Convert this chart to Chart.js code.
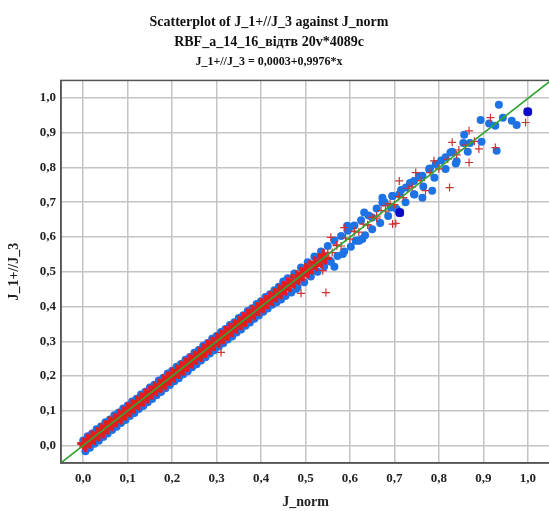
<!DOCTYPE html>
<html lang="uk">
<head>
    <meta charset="UTF-8">
    <title>Scatterplot of J_1+//J_3 against J_norm</title>
    <script src="https://cdn.jsdelivr.net/npm/chart.js"></script>
    <style>
        html, body { margin: 0; padding: 0; background: #fff; overflow: hidden; }
        .chart-box { width: 559px; height: 511px; position: relative; }
    </style>
</head>
<body>
<div class="chart-box">
    <canvas id="scatterChart"></canvas>
</div>

<script>
    // tick values on both axes
    const tickValues = [0, 0.1, 0.2, 0.3, 0.4, 0.5, 0.6, 0.7, 0.8, 0.9, 1.0];

    // regression line J_1+//J_3 = 0,0003 + 0,9976*x, between the axis limits
    const fitX = [-0.05, 1.05];
    const fitY = [-0.0496, 1.0478];

    // red "+" markers in the dense core of the band
    const redCore = [
        [0.000,0.006],[0.005,-0.001],[0.010,0.017],[0.015,0.009],[0.020,0.026],[0.025,0.019],[0.030,0.036],[0.035,0.029],[0.040,0.047],[0.045,0.038],
        [0.050,0.056],[0.055,0.049],[0.060,0.067],[0.065,0.058],[0.070,0.076],[0.075,0.069],[0.080,0.087],[0.085,0.078],[0.090,0.096],[0.095,0.089],
        [0.100,0.107],[0.105,0.098],[0.110,0.116],[0.115,0.109],[0.120,0.127],[0.125,0.118],[0.130,0.136],[0.135,0.129],[0.140,0.147],[0.145,0.138],
        [0.150,0.156],[0.155,0.149],[0.160,0.167],[0.165,0.158],[0.170,0.176],[0.175,0.169],[0.180,0.187],[0.185,0.178],[0.190,0.196],[0.195,0.189],
        [0.200,0.207],[0.205,0.198],[0.210,0.216],[0.215,0.209],[0.220,0.227],[0.225,0.218],[0.230,0.236],[0.235,0.229],[0.240,0.247],[0.245,0.238],
        [0.250,0.256],[0.255,0.249],[0.260,0.267],[0.265,0.258],[0.270,0.276],[0.275,0.269],[0.280,0.287],[0.285,0.278],[0.290,0.296],[0.295,0.289],
        [0.300,0.307],[0.305,0.298],[0.310,0.316],[0.315,0.309],[0.320,0.327],[0.325,0.318],[0.330,0.336],[0.335,0.329],[0.340,0.347],[0.345,0.338],
        [0.350,0.356],[0.355,0.349],[0.360,0.367],[0.365,0.358],[0.370,0.376],[0.375,0.369],[0.380,0.387],[0.385,0.378],[0.390,0.396],[0.395,0.389],
        [0.400,0.407],[0.405,0.398],[0.410,0.416],[0.415,0.409],[0.420,0.427],[0.425,0.418],[0.430,0.436],[0.435,0.429],[0.440,0.447],[0.445,0.438],
        [0.450,0.456],[0.455,0.449],[0.460,0.467],[0.465,0.458],[0.470,0.476],[0.475,0.469],[0.480,0.487],[0.485,0.478],[0.490,0.496],[0.495,0.489],
        [0.500,0.507],[0.505,0.498],[0.510,0.516],[0.515,0.509],[0.520,0.527],[0.525,0.518],[0.530,0.536],[0.535,0.529],[0.540,0.547],[0.545,0.538]
    ];

    // red "+" markers further out along the line
    const redScatter = [
        [0.310,0.268],[0.490,0.438],[0.546,0.440],[0.539,0.503],[0.557,0.599],[0.587,0.627],[0.696,0.637],[0.703,0.639],
        [0.550,0.556],[0.560,0.555],[0.570,0.577],[0.580,0.574],[0.590,0.597],[0.600,0.594],[0.610,0.617],[0.620,0.614],
        [0.630,0.637],[0.640,0.634],[0.650,0.656],[0.660,0.654],[0.670,0.676],[0.680,0.674],[0.690,0.696],[0.700,0.693],
        [0.710,0.716],[0.720,0.713],[0.740,0.744],[0.760,0.762],[0.780,0.785],[0.800,0.796],[0.820,0.824],[0.840,0.836],
        [0.860,0.864],[0.711,0.761],[0.730,0.740],[0.748,0.785],[0.770,0.733],[0.789,0.819],[0.824,0.742],[0.830,0.872],
        [0.845,0.850],[0.868,0.905],[0.868,0.814],[0.890,0.853],[0.916,0.943],[0.927,0.857],[0.995,0.929],[0.880,0.875],
        [0.475,0.480],[0.510,0.520],[0.530,0.535],[0.570,0.575],[0.610,0.615],[0.640,0.635],[0.660,0.660],[0.680,0.690]
    ];

    // blue markers: the two edges of the band, then the scattered ones
    const bluePoints = [
        [0.000,0.015],[0.005,-0.016],[0.010,0.027],[0.015,-0.006],[0.020,0.035],[0.025,0.005],[0.030,0.047],[0.035,0.014],
        [0.040,0.055],[0.045,0.025],[0.050,0.067],[0.055,0.035],[0.060,0.075],[0.065,0.045],[0.070,0.087],[0.075,0.054],
        [0.080,0.095],[0.085,0.065],[0.090,0.107],[0.095,0.074],[0.100,0.115],[0.105,0.085],[0.110,0.127],[0.115,0.094],
        [0.120,0.135],[0.125,0.105],[0.130,0.147],[0.135,0.114],[0.140,0.155],[0.145,0.125],[0.150,0.167],[0.155,0.134],
        [0.160,0.175],[0.165,0.145],[0.170,0.187],[0.175,0.154],[0.180,0.195],[0.185,0.165],[0.190,0.207],[0.195,0.174],
        [0.200,0.215],[0.205,0.185],[0.210,0.227],[0.215,0.194],[0.220,0.235],[0.225,0.205],[0.230,0.247],[0.235,0.214],
        [0.240,0.255],[0.245,0.225],[0.250,0.267],[0.255,0.234],[0.260,0.275],[0.265,0.245],[0.270,0.287],[0.275,0.254],
        [0.280,0.295],[0.285,0.265],[0.290,0.307],[0.295,0.274],[0.300,0.315],[0.305,0.285],[0.310,0.327],[0.315,0.294],
        [0.320,0.335],[0.325,0.305],[0.330,0.347],[0.335,0.314],[0.340,0.355],[0.345,0.325],[0.350,0.367],[0.355,0.334],
        [0.360,0.375],[0.365,0.345],[0.370,0.387],[0.375,0.354],[0.380,0.395],[0.385,0.365],[0.390,0.407],[0.395,0.374],
        [0.400,0.415],[0.405,0.385],[0.410,0.427],[0.415,0.394],[0.420,0.435],[0.425,0.405],[0.430,0.447],[0.435,0.412],
        [0.440,0.457],[0.445,0.420],
        [0.450,0.472],[0.455,0.430],[0.460,0.481],[0.468,0.440],[0.475,0.495],[0.482,0.455],[0.490,0.512],[0.497,0.470],
        [0.505,0.527],[0.512,0.486],[0.520,0.544],[0.527,0.500],[0.535,0.558],[0.542,0.515],[0.550,0.574],[0.557,0.529],
        [0.565,0.590],[0.572,0.545],[0.580,0.603],[0.587,0.558],[0.595,0.618],[0.602,0.572],[0.610,0.633],[0.618,0.590],
        [0.625,0.648],[0.634,0.605],[0.642,0.662],[0.650,0.622],[0.660,0.682],[0.668,0.640],[0.678,0.700],[0.686,0.660],
        [0.696,0.718],[0.705,0.680],[0.715,0.735],[0.725,0.700],[0.735,0.755],[0.745,0.722],[0.755,0.775],[0.765,0.745],
        [0.780,0.797],[0.790,0.770],[0.805,0.820],[0.815,0.795],[0.830,0.845],[0.840,0.818],[0.855,0.870],[0.865,0.845],
        [0.479,0.450],[0.554,0.532],[0.565,0.514],[0.584,0.551],[0.594,0.632],[0.599,0.627],[0.613,0.589],[0.621,0.589],
        [0.628,0.594],[0.632,0.670],[0.650,0.656],[0.673,0.713],[0.673,0.699],[0.692,0.685],[0.695,0.718],[0.711,0.723],
        [0.726,0.742],[0.744,0.761],[0.744,0.723],[0.763,0.776],[0.763,0.713],[0.778,0.795],[0.785,0.733],[0.793,0.810],
        [0.815,0.829],[0.826,0.843],[0.838,0.811],[0.857,0.894],[0.870,0.870],[0.896,0.874],[0.894,0.936],[0.913,0.926],
        [0.927,0.920],[0.930,0.848],[0.935,0.980],[0.944,0.943],[0.964,0.934],[0.975,0.922]
    ];

    // a few darker blue markers
    const darkPoints = [[0.712,0.670],[1.000,0.960]];

    const serif = "'Liberation Serif', 'Times New Roman', serif";
    const toXY = pts => pts.map(p => ({x: p[0], y: p[1]}));
    const commaLabel = v => v.toFixed(1).replace('.', ',');

    // plot frame drawn around the chart area
    const frame = {
        id: 'frame',
        afterDatasetsDraw(chart) {
            const a = chart.chartArea, c = chart.ctx;
            c.save();
            c.strokeStyle = '#555';
            c.lineWidth = 1.5;
            c.strokeRect(a.left, a.top, a.right - a.left, a.bottom - a.top);
            c.restore();
        }
    };

    new Chart(document.getElementById('scatterChart'), {
        type: 'scatter',
        data: {
            datasets: [
                {
                    type: 'line',
                    data: fitX.map((x, i) => ({x: x, y: fitY[i]})),
                    borderColor: 'rgb(50,165,50)',
                    borderWidth: 1.6,
                    pointRadius: 0,
                    fill: false
                },
                {
                    data: toXY(redScatter),
                    pointStyle: 'cross',
                    pointRadius: 4,
                    borderColor: 'rgb(205,50,50)',
                    borderWidth: 1.2
                },
                {
                    data: toXY(redCore),
                    pointStyle: 'cross',
                    pointRadius: 6,
                    borderColor: 'rgb(225,30,30)',
                    borderWidth: 3
                },
                {
                    data: toXY(darkPoints),
                    pointStyle: 'rectRounded',
                    pointRadius: 4.5,
                    backgroundColor: 'rgb(10,10,200)',
                    borderColor: 'rgb(10,10,200)'
                },
                {
                    data: toXY(bluePoints),
                    pointStyle: 'circle',
                    pointRadius: 4,
                    backgroundColor: 'rgb(30,115,228)',
                    borderColor: 'rgb(30,115,228)',
                    borderWidth: 0
                }
            ]
        },
        options: {
            responsive: true,
            maintainAspectRatio: false,
            animation: false,
            // negative left padding keeps the centred title a little left of the plot centre
            layout: { padding: { left: -20, right: 1, top: 0, bottom: 0 } },
            plugins: {
                legend: { display: false },
                tooltip: { enabled: false },
                title: {
                    display: true,
                    text: ['Scatterplot of J_1+//J_3 against J_norm', 'RBF_a_14_16_відтв 20v*4089c'],
                    color: '#111',
                    font: { family: serif, size: 14, weight: 'bold', lineHeight: 1.43 },
                    padding: { top: 12, bottom: 3 }
                },
                subtitle: {
                    display: true,
                    text: 'J_1+//J_3 = 0,0003+0,9976*x',
                    color: '#111',
                    font: { family: serif, size: 12, weight: 'bold' },
                    padding: { top: 0, bottom: 11 }
                }
            },
            scales: {
                x: {
                    type: 'linear',
                    min: -0.05,
                    max: 1.05,
                    afterBuildTicks: s => { s.ticks = tickValues.map(v => ({value: v})); },
                    afterFit: s => { s.height = 48; },
                    grid: { color: '#c4c4c4', lineWidth: 1.5, drawTicks: false },
                    border: { color: '#555', width: 1.5 },
                    ticks: {
                        callback: commaLabel,
                        color: '#222',
                        padding: 8,
                        maxRotation: 0,
                        font: { family: serif, size: 13, weight: 'bold' }
                    },
                    title: {
                        display: true,
                        text: 'J_norm',
                        color: '#222',
                        padding: 0,
                        font: { family: serif, size: 14, weight: 'bold' }
                    }
                },
                y: {
                    type: 'linear',
                    min: -0.05,
                    max: 1.05,
                    afterBuildTicks: s => { s.ticks = tickValues.map(v => ({value: v})); },
                    afterFit: s => { s.width = 81; },
                    grid: { color: '#c4c4c4', lineWidth: 1.5, drawTicks: false },
                    border: { color: '#555', width: 1.5 },
                    ticks: {
                        callback: commaLabel,
                        color: '#222',
                        padding: 5,
                        font: { family: serif, size: 13, weight: 'bold' }
                    },
                    title: {
                        display: true,
                        text: 'J_1+//J_3',
                        color: '#222',
                        padding: { top: 26, bottom: 0 },
                        font: { family: serif, size: 14, weight: 'bold' }
                    }
                }
            }
        },
        plugins: [frame]
    });
</script>
</body>
</html>
